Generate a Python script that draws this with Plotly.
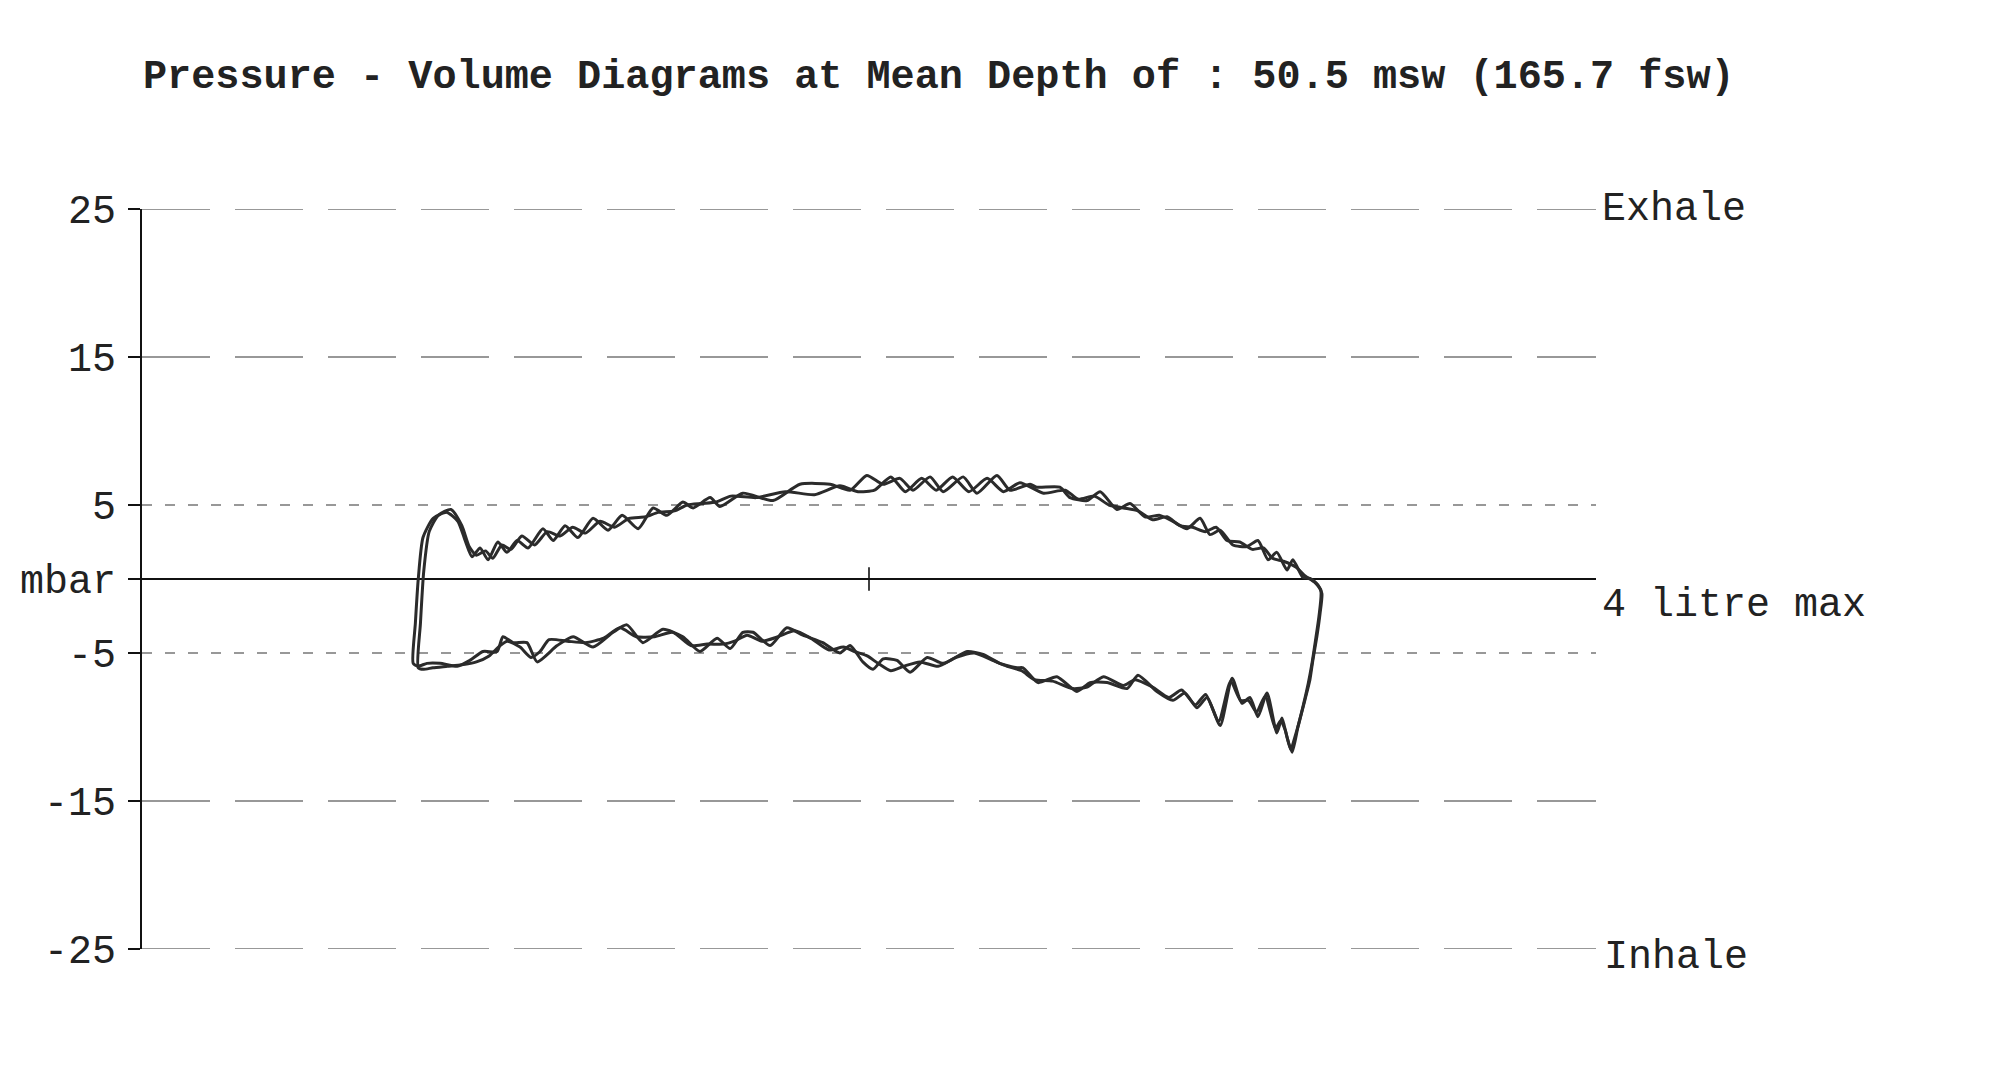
import plotly.graph_objects as go

# ---- data (volume in litres, pressure in mbar) ----
tick_values = [25, 15, 5, 0, -5, -15, -25]
tick_labels = ["25", "15", "5", "mbar", "-5", "-15", "-25"]
long_dash_levels = [25, 15, -15, -25]
short_dash_levels = [5, -5]

cycle_a_vol = [0.746, 0.752, 0.760, 0.773, 0.801, 0.839, 0.869, 0.889, 0.908, 0.930, 0.952, 0.979, 1.004, 1.032, 1.062,
               1.103, 1.131, 1.164, 1.199, 1.241, 1.282, 1.321, 1.365, 1.406, 1.444, 1.488, 1.516, 1.563, 1.590, 1.653,
               1.736, 1.810, 1.893, 1.948, 1.994, 2.039, 2.085, 2.121, 2.168, 2.204, 2.259, 2.297, 2.352, 2.388, 2.443,
               2.462, 2.525, 2.553, 2.600, 2.636, 2.682, 2.718, 2.759, 2.800, 2.836, 2.875, 2.911, 2.938, 2.966, 3.001,
               3.040, 3.070, 3.098, 3.122, 3.150, 3.166, 3.194, 3.213, 3.235, 3.246,
               3.241, 3.232, 3.221, 3.213, 3.199, 3.180, 3.164,
               3.150, 3.136, 3.122, 3.095, 3.070, 3.048, 3.026, 2.999, 2.966, 2.930, 2.902, 2.869, 2.836, 2.792,
               2.740, 2.710, 2.655, 2.608, 2.572, 2.517, 2.465, 2.424, 2.407, 2.360, 2.314, 2.270, 2.204, 2.160,
               2.113, 2.077, 2.039, 2.011, 1.983, 1.948, 1.920, 1.873, 1.818, 1.774, 1.728, 1.681, 1.653, 1.618,
               1.582, 1.535, 1.488, 1.433, 1.378, 1.334, 1.296, 1.241, 1.186, 1.142, 1.087, 1.059, 1.021, 0.993,
               0.977, 0.938, 0.902, 0.867, 0.820, 0.784, 0.759, 0.746]
cycle_a_p = [-5.7, -3.0, 0.0, 2.8, 4.1, 4.5, 3.9, 2.6, 1.5, 2.1, 1.3, 2.5, 1.8, 2.6, 2.1,
             3.4, 2.6, 3.6, 2.8, 4.1, 3.3, 4.3, 3.4, 4.8, 4.3, 5.2, 4.8, 5.5, 4.9, 5.8,
             5.3, 6.4, 6.4, 6.0, 7.0, 6.4, 6.8, 6.0, 6.9, 5.9, 6.9, 5.8, 7.0, 6.0, 6.4,
             6.2, 6.2, 5.5, 5.3, 5.9, 4.7, 5.1, 4.2, 4.3, 3.9, 3.4, 4.1, 3.0, 3.3, 2.3,
             2.2, 2.6, 1.3, 1.8, 0.6, 1.3, 0.1, 0.05, -0.4, -1.0,
             -2.3, -3.9, -5.5, -6.8, -8.2, -10.0, -11.7,
             -10.7, -9.4, -10.4, -7.7, -9.3, -8.0, -8.4, -6.7, -9.9, -8.0, -8.7, -7.7, -8.2, -7.6,
             -6.5, -7.4, -7.0, -7.0, -7.6, -6.6, -7.0, -6.0, -6.0, -5.7, -5.1, -4.9, -5.7, -5.3,
             -6.3, -5.5, -5.4, -6.1, -5.6, -4.5, -5.0, -4.3, -3.8, -3.3, -4.5, -3.6, -3.6, -4.7,
             -4.0, -4.9, -3.9, -3.4, -4.3, -3.1, -3.6, -4.6, -3.9, -4.5, -5.6, -4.3, -4.3, -3.9,
             -4.9, -4.9, -5.5, -5.9, -5.7, -5.7, -5.9, -5.7]

cycle_b_vol = [0.760, 0.766, 0.775, 0.790, 0.815, 0.850, 0.880, 0.900, 0.920, 0.945, 0.965, 0.990, 1.015, 1.045, 1.080,
               1.115, 1.150, 1.185, 1.220, 1.260, 1.300, 1.340, 1.385, 1.420, 1.465, 1.500, 1.540, 1.580, 1.620, 1.690,
               1.770, 1.850, 1.920, 1.970, 2.015, 2.060, 2.100, 2.145, 2.185, 2.230, 2.275, 2.325, 2.370, 2.415, 2.480,
               2.540, 2.575, 2.620, 2.660, 2.700, 2.740, 2.780, 2.820, 2.855, 2.890, 2.925, 2.955, 2.985, 3.020, 3.055,
               3.085, 3.110, 3.140, 3.175, 3.200, 3.225, 3.243,
               3.238, 3.228, 3.218, 3.208, 3.194, 3.175, 3.160,
               3.145, 3.132, 3.118, 3.090, 3.066, 3.044, 3.022, 2.995, 2.962, 2.926, 2.898, 2.860, 2.825, 2.780,
               2.732, 2.700, 2.645, 2.600, 2.560, 2.505, 2.455, 2.420, 2.380, 2.340, 2.290, 2.240, 2.190, 2.140,
               2.095, 2.060, 2.025, 1.995, 1.960, 1.930, 1.890, 1.840, 1.795, 1.750, 1.705, 1.665, 1.630, 1.600,
               1.555, 1.510, 1.460, 1.410, 1.360, 1.315, 1.270, 1.220, 1.170, 1.120, 1.095, 1.070, 1.040, 1.005,
               0.985, 0.955, 0.920, 0.880, 0.840, 0.800, 0.775, 0.760]
cycle_b_p = [-6.0, -3.0, 0.5, 3.2, 4.3, 4.7, 3.6, 2.2, 1.6, 1.9, 1.4, 2.3, 2.0, 2.9, 2.3,
             3.2, 2.9, 3.5, 3.1, 3.9, 3.5, 4.1, 4.2, 4.5, 4.6, 5.0, 5.1, 5.2, 5.6, 5.5,
             5.9, 5.7, 6.3, 5.9, 6.0, 6.9, 5.9, 6.8, 6.0, 6.9, 5.9, 6.8, 5.9, 6.5, 5.8,
             6.0, 5.4, 5.6, 5.0, 4.8, 4.6, 4.0, 4.2, 3.6, 3.5, 3.2, 3.5, 2.6, 2.5, 2.0,
             2.1, 1.4, 1.2, 0.8, 0.2, -0.2, -0.8,
             -2.5, -4.2, -5.8, -7.1, -8.6, -10.4, -11.5,
             -10.2, -9.6, -10.1, -7.9, -9.0, -8.2, -8.2, -6.9, -9.6, -7.8, -8.5, -7.5, -8.0, -7.3,
             -6.8, -7.2, -6.6, -7.3, -7.4, -6.9, -6.8, -6.2, -5.9, -5.5, -5.0, -5.3, -5.9, -5.6,
             -5.9, -6.2, -5.7, -5.2, -4.9, -4.6, -4.8, -4.0, -3.5, -3.9, -4.2, -3.8, -4.2, -4.4,
             -4.4, -4.5, -3.6, -3.9, -3.9, -3.3, -4.0, -4.3, -4.2, -4.1, -4.9, -5.3, -4.6, -4.2,
             -4.5, -5.2, -5.6, -5.8, -5.9, -6.0, -6.1, -6.0]

title_text = "Pressure - Volume Diagrams at Mean Depth of : 50.5 msw (165.7 fsw)"
x_range = [0, 4]
y_range = [-25, 25]
mid_volume = 2

FONT = "Liberation Mono, Courier New, monospace"
INK = "#222222"

fig = go.Figure()
for vx, vy in [(cycle_a_vol, cycle_a_p), (cycle_b_vol, cycle_b_p)]:
    fig.add_trace(go.Scatter(x=vx, y=vy, mode="lines",
                             line=dict(color="#2b2b2b", width=3, shape="spline", smoothing=0.6),
                             hoverinfo="skip", showlegend=False))

shapes = []
for lv in long_dash_levels:
    shapes.append(dict(type="line", xref="x", yref="y", x0=x_range[0], x1=x_range[1], y0=lv, y1=lv,
                       line=dict(color="#333333", width=1.2, dash="68px,25px"), layer="below"))
for lv in short_dash_levels:
    shapes.append(dict(type="line", xref="x", yref="y", x0=x_range[0], x1=x_range[1], y0=lv, y1=lv,
                       line=dict(color="#333333", width=1.2, dash="10px,13px"), layer="below"))
shapes.append(dict(type="line", xref="x", yref="y", x0=x_range[0], x1=x_range[1], y0=0, y1=0,
                   line=dict(color="#111111", width=2), layer="below"))
shapes.append(dict(type="line", xref="x", yref="y", x0=mid_volume, x1=mid_volume, y0=-0.8, y1=0.8,
                   line=dict(color="#111111", width=1.6)))

annotations = [
    dict(x=x_range[1], y=25, xref="x", yref="y", text="Exhale", showarrow=False, xanchor="left",
         yanchor="middle", xshift=4, font=dict(family=FONT, size=40, color=INK)),
    dict(x=x_range[1], y=-1.8, xref="x", yref="y", text="4 litre max", showarrow=False, xanchor="left",
         yanchor="middle", xshift=4, font=dict(family=FONT, size=40, color=INK)),
    dict(x=x_range[1], y=-25, xref="x", yref="y", text="Inhale", showarrow=False, xanchor="left",
         yanchor="middle", xshift=6, yshift=-8, font=dict(family=FONT, size=40, color=INK)),
]

fig.update_layout(
    width=2000, height=1069,
    margin=dict(l=142, r=404, t=209, b=120, pad=0),
    paper_bgcolor="white", plot_bgcolor="white",
    title=dict(text=title_text, xref="container", yref="container", x=0.0715, y=1 - 74 / 1069,
               xanchor="left", yanchor="middle",
               font=dict(family=FONT, size=40.2, color=INK, weight="bold")),
    shapes=shapes, annotations=annotations,
    xaxis=dict(range=x_range, visible=False, showgrid=False, zeroline=False, fixedrange=True),
    yaxis=dict(range=y_range, tickmode="array", tickvals=tick_values, ticktext=tick_labels,
               ticks="outside", ticklen=12, tickwidth=2, tickcolor="#111111",
               showline=True, linecolor="#111111", linewidth=2, showgrid=False, zeroline=False,
               ticklabelstandoff=4,
               tickfont=dict(family=FONT, size=40, color=INK), fixedrange=True),
)

fig.write_html("out.html", config={"displayModeBar": False},
               post_script="document.body.style.margin='0px';document.body.style.padding='0px';")
